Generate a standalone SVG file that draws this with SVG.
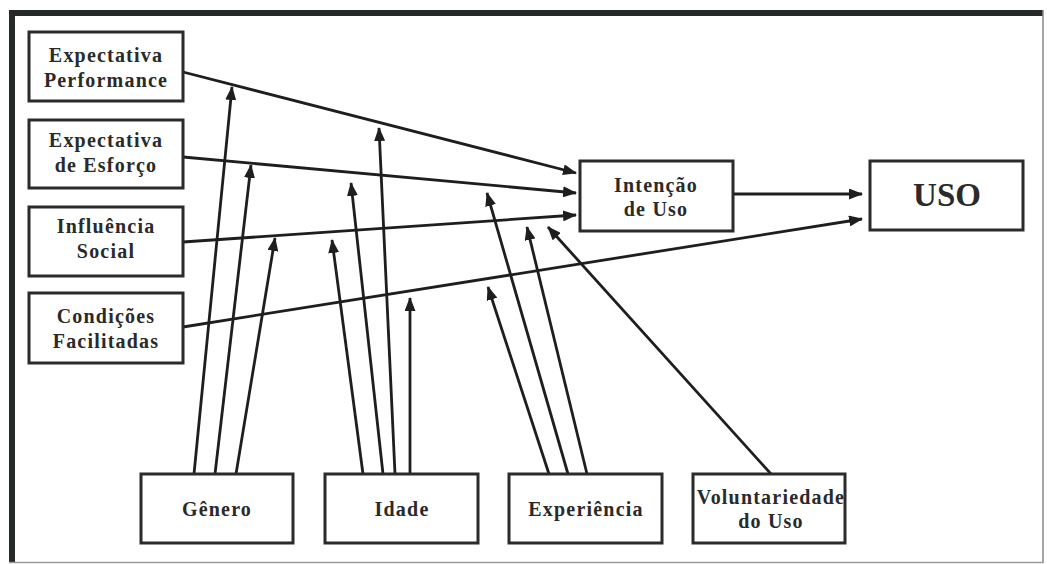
<svg xmlns="http://www.w3.org/2000/svg" width="1047" height="564" viewBox="0 0 1047 564">
<defs>
<marker id="ah" viewBox="0 0 14 11" refX="13" refY="5.5" markerWidth="14" markerHeight="11" markerUnits="userSpaceOnUse" orient="auto">
<path d="M0,0 L14,5.5 L0,11 z" fill="#1e1e1e"/>
</marker>
<style>
.box{fill:#ffffff;stroke:#2b2b2b;stroke-width:3}
.t{font-family:"Liberation Serif","Times New Roman",serif;font-weight:bold;font-size:20px;fill:#2a2a2a;text-anchor:middle;letter-spacing:1.2px}
.big{font-size:33px;letter-spacing:0}
.c{fill:none;stroke:#1e1e1e;stroke-width:2.8;marker-end:url(#ah)}
</style>
</defs>
<rect x="0" y="0" width="1047" height="564" fill="#ffffff"/>
<g id="frame">
<rect x="9" y="10" width="1034" height="6" fill="#252a28"/>
<rect x="9" y="10" width="6" height="553" fill="#252a28"/>
<line x1="1043" y1="10" x2="1043" y2="563" stroke="#8a8a8a" stroke-width="1.5"/>
<line x1="9" y1="562.5" x2="1043" y2="562.5" stroke="#9a9a9a" stroke-width="1.5"/>
</g>
<g id="connectors">
<line class="c" x1="183" y1="72" x2="576" y2="173"/>
<line class="c" x1="183" y1="157" x2="576" y2="193"/>
<line class="c" x1="183" y1="242" x2="576" y2="215"/>
<line class="c" x1="183" y1="327" x2="862" y2="219"/>
<line class="c" x1="733" y1="194" x2="862" y2="194"/>
<line class="c" x1="194" y1="474" x2="232" y2="87"/>
<line class="c" x1="215" y1="474" x2="251" y2="165"/>
<line class="c" x1="236" y1="474" x2="275" y2="238"/>
<line class="c" x1="363" y1="474" x2="332" y2="240"/>
<line class="c" x1="383" y1="474" x2="351" y2="183"/>
<line class="c" x1="395" y1="474" x2="379" y2="128"/>
<line class="c" x1="410" y1="474" x2="410" y2="298"/>
<line class="c" x1="549" y1="474" x2="488" y2="287"/>
<line class="c" x1="568" y1="474" x2="487" y2="193"/>
<line class="c" x1="587" y1="474" x2="527" y2="227"/>
<line class="c" x1="771" y1="474" x2="548" y2="227"/>
</g>
<g id="expectativa-performance">
<rect class="box" x="29" y="32" width="154" height="69"/>
<text class="t" x="106" y="62">Expectativa</text>
<text class="t" x="106" y="87">Performance</text>
</g>
<g id="expectativa-esforco">
<rect class="box" x="29" y="120" width="154" height="68"/>
<text class="t" x="106" y="147">Expectativa</text>
<text class="t" x="106" y="172">de Esforço</text>
</g>
<g id="influencia-social">
<rect class="box" x="29" y="207" width="154" height="69"/>
<text class="t" x="106" y="233">Influência</text>
<text class="t" x="106" y="258">Social</text>
</g>
<g id="condicoes-facilitadas">
<rect class="box" x="29" y="293" width="154" height="70"/>
<text class="t" x="106" y="323">Condições</text>
<text class="t" x="106" y="348">Facilitadas</text>
</g>
<g id="intencao-uso">
<rect class="box" x="580" y="161" width="153" height="70"/>
<text class="t" x="656" y="192">Intenção</text>
<text class="t" x="656" y="216">de Uso</text>
</g>
<g id="uso">
<rect class="box" x="870" y="161" width="153" height="69"/>
<text class="t big" x="947" y="206">USO</text>
</g>
<g id="genero">
<rect class="box" x="141" y="474" width="152" height="69"/>
<text class="t" x="217" y="516">Gênero</text>
</g>
<g id="idade">
<rect class="box" x="325" y="474" width="153" height="69"/>
<text class="t" x="402" y="516">Idade</text>
</g>
<g id="experiencia">
<rect class="box" x="509" y="474" width="153" height="69"/>
<text class="t" x="586" y="516">Experiência</text>
</g>
<g id="voluntariedade">
<rect class="box" x="693" y="474" width="152" height="69"/>
<text class="t" x="771" y="504">Voluntariedade</text>
<text class="t" x="771" y="528">do Uso</text>
</g>
</svg>
